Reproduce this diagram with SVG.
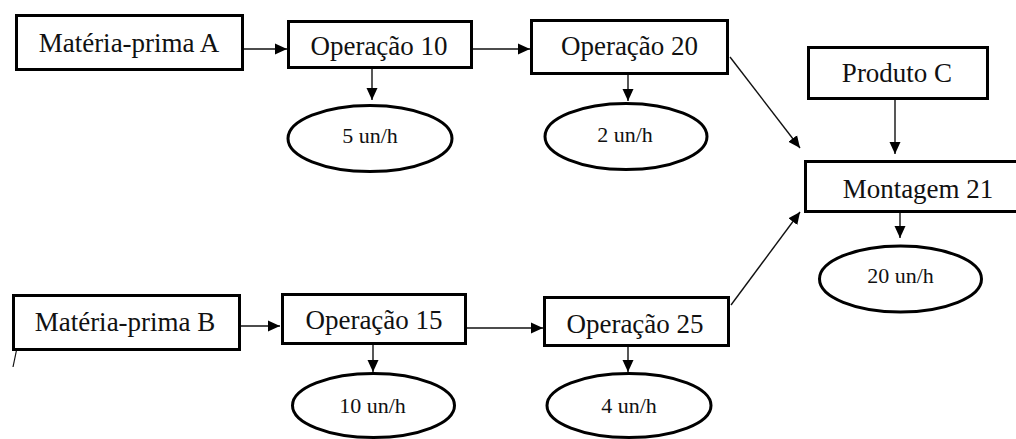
<svg xmlns="http://www.w3.org/2000/svg" width="1016" height="439" viewBox="0 0 1016 439">
<style>
.box{fill:#fff;stroke:#000;stroke-width:3}
.ell{fill:#fff;stroke:#000;stroke-width:3}
.con{fill:none;stroke:#111;stroke-width:1.4;marker-end:url(#ah)}
</style>
<defs>
<marker id="ah" markerUnits="userSpaceOnUse" markerWidth="12" markerHeight="12" viewBox="0 0 12 12" refX="12" refY="6" orient="auto">
<path d="M0,0.5 L12,6 L0,11.5 z" fill="#000"/>
</marker>
</defs>
<rect width="1016" height="439" fill="#fff"/>
<g id="connectors">
<path class="con" d="M244,49 L287,49"/>
<path class="con" d="M473,49 L530,49"/>
<path class="con" d="M372,69 L372,100"/>
<path class="con" d="M628,75 L628,101"/>
<path class="con" d="M730,57 L800,148"/>
<path class="con" d="M895,100 L895,154"/>
<path class="con" d="M731,305 L800,212"/>
<path class="con" d="M900,213 L900,238"/>
<path class="con" d="M241,326 L280,326"/>
<path class="con" d="M467,328 L543,328"/>
<path class="con" d="M373,345 L373,372"/>
<path class="con" d="M628,347 L628,372"/>
<path d="M18,343 L13,367" stroke="#111" stroke-width="1.2" fill="none"/>
</g>
<g id="mpA"><rect class="box" x="16.5" y="15.5" width="226" height="54"/><text font-family="'Liberation Serif', serif" font-size="27" fill="#111" text-anchor="middle" x="129" y="52">Matéria-prima A</text></g>
<g id="op10"><rect class="box" x="288.5" y="21.5" width="183" height="46"/><text font-family="'Liberation Serif', serif" font-size="27" fill="#111" text-anchor="middle" x="379" y="55">Operação 10</text></g>
<g id="op20"><rect class="box" x="531.5" y="20.5" width="196" height="53"/><text font-family="'Liberation Serif', serif" font-size="27" fill="#111" text-anchor="middle" x="629.5" y="55">Operação 20</text></g>
<g id="prodC"><rect class="box" x="808.5" y="47.5" width="179" height="51"/><text font-family="'Liberation Serif', serif" font-size="27" fill="#111" text-anchor="middle" x="897" y="82">Produto C</text></g>
<g id="mont21"><rect class="box" x="805.5" y="161.5" width="215" height="50"/><text font-family="'Liberation Serif', serif" font-size="27" fill="#111" text-anchor="middle" x="918" y="198">Montagem 21</text></g>
<g id="mpB"><rect class="box" x="13.5" y="295.5" width="226" height="54"/><text font-family="'Liberation Serif', serif" font-size="27" fill="#111" text-anchor="middle" x="125" y="331">Matéria-prima B</text></g>
<g id="op15"><rect class="box" x="282.5" y="294.5" width="183" height="49"/><text font-family="'Liberation Serif', serif" font-size="27" fill="#111" text-anchor="middle" x="374" y="329">Operação 15</text></g>
<g id="op25"><rect class="box" x="544.5" y="297.5" width="184" height="48"/><text font-family="'Liberation Serif', serif" font-size="27" fill="#111" text-anchor="middle" x="635" y="333">Operação 25</text></g>
<g id="r5"><ellipse class="ell" cx="370" cy="138.5" rx="82" ry="33"/><text font-family="'Liberation Serif', serif" font-size="22" fill="#111" text-anchor="middle" x="370" y="143">5 un/h</text></g>
<g id="r2"><ellipse class="ell" cx="626" cy="136.5" rx="81" ry="33"/><text font-family="'Liberation Serif', serif" font-size="22" fill="#111" text-anchor="middle" x="625" y="142">2 un/h</text></g>
<g id="r20"><ellipse class="ell" cx="900.5" cy="279" rx="81" ry="33"/><text font-family="'Liberation Serif', serif" font-size="22" fill="#111" text-anchor="middle" x="900.5" y="283">20 un/h</text></g>
<g id="r10"><ellipse class="ell" cx="373.5" cy="405.5" rx="81" ry="32"/><text font-family="'Liberation Serif', serif" font-size="22" fill="#111" text-anchor="middle" x="372.5" y="413">10 un/h</text></g>
<g id="r4"><ellipse class="ell" cx="629" cy="405.5" rx="82" ry="32"/><text font-family="'Liberation Serif', serif" font-size="22" fill="#111" text-anchor="middle" x="629" y="413">4 un/h</text></g>
</svg>
